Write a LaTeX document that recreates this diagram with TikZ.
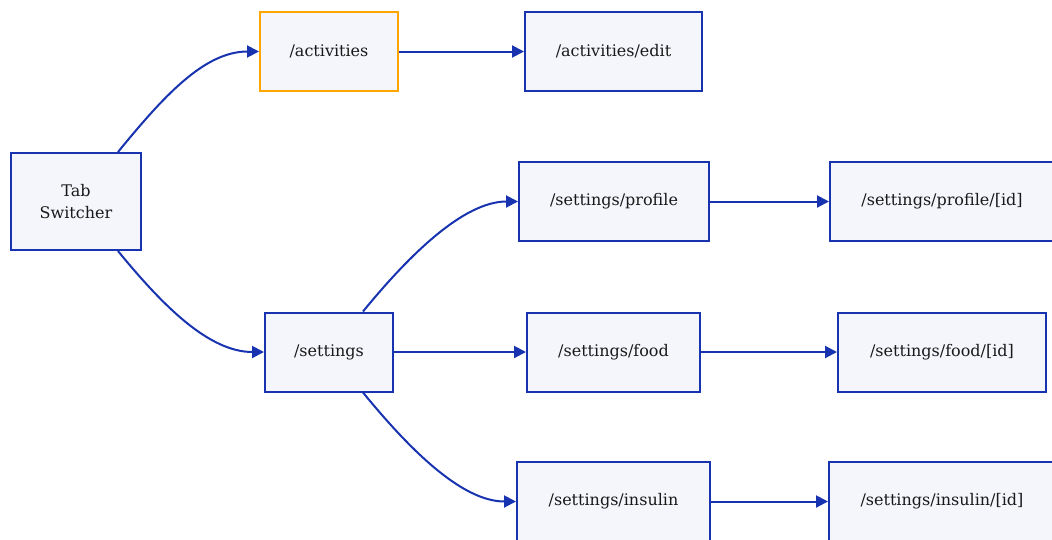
\documentclass[tikz,border=0pt]{standalone}
\usepackage{fontspec}
\setmainfont{DejaVu Serif}
\usetikzlibrary{arrows.meta}
\definecolor{edgeblue}{RGB}{24,51,176}
\definecolor{boxfill}{RGB}{245,246,252}
\definecolor{orng}{RGB}{255,165,0}
\begin{document}
\begin{tikzpicture}[x=1pt,y=-1pt,
  box/.style={draw=edgeblue, fill=boxfill, line width=2pt, minimum height=79pt, inner sep=0pt,
    font=\fontsize{16}{22}\selectfont, text=black!90, align=center},
  link/.style={draw=edgeblue, line width=2pt, -{Triangle[length=12pt,width=12pt]}}]
\useasboundingbox (0,0) rectangle (1052,539);
\clip (0,0) rectangle (1052,539);
\node[box, minimum width=130pt, minimum height=97pt] (tab) at (76,201.5) {Tab\\Switcher};
\node[box, draw=orng, minimum width=138pt] (act) at (329,51.5) {/activities};
\node[box, minimum width=177pt] (edit) at (613.5,51.5) {/activities/edit};
\node[box, minimum width=190pt] (prof) at (614,201.5) {/settings/profile};
\node[box, minimum width=224pt] (profid) at (942,201.5) {/settings/profile/[id]};
\node[box, minimum width=128pt] (set) at (329,352) {/settings};
\node[box, minimum width=173pt] (food) at (613.5,352) {/settings/food};
\node[box, minimum width=208pt] (foodid) at (942,352) {/settings/food/[id]};
\node[box, minimum width=193pt] (ins) at (613.5,501.5) {/settings/insulin};
\node[box, minimum width=226pt] (insid) at (942,501.5) {/settings/insulin/[id]};
\draw[link] ([xshift=42pt]tab.north) .. controls +(45,-55) and +(-55,0) .. (act.west);
\draw[link] ([xshift=42pt]tab.south) .. controls +(45,55) and +(-55,0) .. (set.west);
\draw[link] ([xshift=34pt]set.north) .. controls +(45,-55) and +(-55,0) .. (prof.west);
\draw[link] ([xshift=34pt]set.south) .. controls +(45,55) and +(-55,0) .. (ins.west);
\draw[link] (act.east) -- (edit.west);
\draw[link] (set.east) -- (food.west);
\draw[link] (prof.east) -- (profid.west);
\draw[link] (food.east) -- (foodid.west);
\draw[link] (ins.east) -- (insid.west);
\end{tikzpicture}
\end{document}
